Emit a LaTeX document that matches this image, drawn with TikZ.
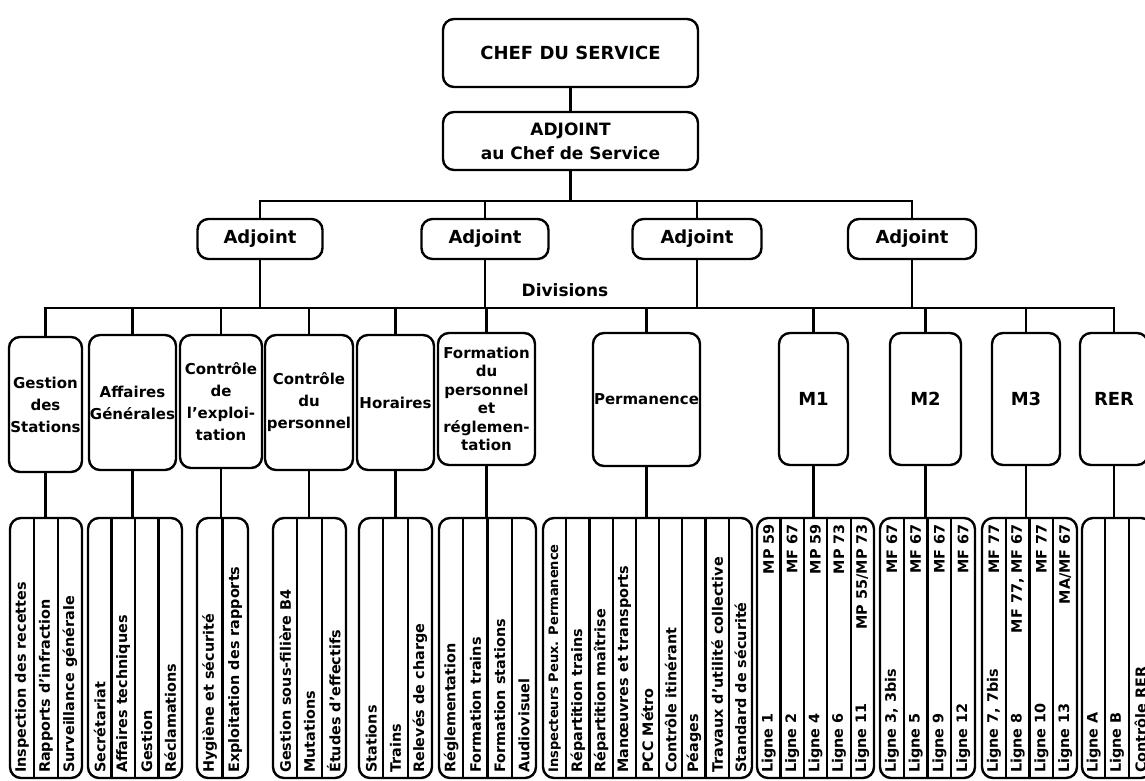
\documentclass[tikz,border=0pt]{standalone}
\usepackage{fontspec}
\setmainfont{DejaVu Sans}
\usetikzlibrary{calc}

% one column group: name, left x, width, number of columns, texts
\newcommand\ColGroup[5]{%
  \node[grp, minimum width=#3pt, anchor=north west] (#1) at (#2,518) {};
  \pgfmathtruncatemacro\lastdiv{#4-1}%
  \foreach \k in {1,...,\lastdiv}
    \draw[link] ($(#1.north west)!{\k/#4}!(#1.north east)$) -- ($(#1.south west)!{\k/#4}!(#1.south east)$);
  \foreach \t [count=\k] in {#5}
    \node[lab, anchor=west] at ($(#1.south west)!{(\k-0.5)/#4}!(#1.south east)+(0,-5)$) {\t};
}
% texts set against the top of a column group
\newcommand\TopTexts[3]{%
  \foreach \t [count=\k] in {#3}
    \node[lab, anchor=east] at ($(#1.north west)!{(\k-0.5)/#2}!(#1.north east)+(0,6)$) {\t};
}
\newcommand\smallerlab[1]{{\fontsize{13}{15}\selectfont #1}}

\begin{document}
\begin{tikzpicture}[x=1pt,y=-1pt,
  box/.style={draw, line width=2.4pt, rounded corners=11pt, inner sep=0pt, outer sep=0pt, align=center},
  grp/.style={box, minimum height=260pt},
  link/.style={line width=2.2pt},
  lab/.style={font=\bfseries\fontsize{14.4}{16}\selectfont, rotate=90, inner sep=0pt},
  divtxt/.style={box, font=\bfseries\fontsize{15}{22}\selectfont},
  line/.style={box, font=\bfseries\fontsize{18}{22}\selectfont},
  adj/.style={box, font=\bfseries\fontsize{18}{20}\selectfont, minimum height=40pt},
]
\useasboundingbox (0,0) rectangle (1145,780);

% head of the service
\node[box, minimum width=255pt, minimum height=68pt, font=\bfseries\fontsize{18}{20}\selectfont]
  (chef) at (570.5,53) {CHEF DU SERVICE};
\node[box, minimum width=255pt, minimum height=58pt, font=\bfseries\fontsize{17}{24}\selectfont]
  (adj) at (570.5,141) {ADJOINT\\au Chef de Service};

% deputies
\node[adj, minimum width=125pt] (a1) at (260,239) {Adjoint};
\node[adj, minimum width=127pt] (a2) at (485,239) {Adjoint};
\node[adj, minimum width=129pt] (a3) at (697,239) {Adjoint};
\node[adj, minimum width=128pt] (a4) at (912,239) {Adjoint};

\node[font=\bfseries\fontsize{17}{20}\selectfont] (divlab) at (565,290) {Divisions};

% divisions
\node[divtxt, minimum width=73pt, minimum height=135pt] (d1) at (45.5,404.5) {Gestion\\des\\Stations};
\node[divtxt, minimum width=87pt, minimum height=135pt] (d2) at (132.5,402.5) {Affaires\\Générales};
\node[divtxt, minimum width=82pt, minimum height=133pt] (d3) at (221,401.5) {Contrôle\\de\\l'exploi-\\tation};
\node[divtxt, minimum width=88pt, minimum height=135pt] (d4) at (309,402.5) {Contrôle\\du\\personnel};
\node[divtxt, minimum width=77pt, minimum height=135pt] (d5) at (395.5,402.5) {Horaires};
\node[divtxt, minimum width=97pt, minimum height=132pt, font=\bfseries\fontsize{15}{18.5}\selectfont]
  (d6) at (486.5,399) {Formation\\du\\personnel\\et\\réglemen-\\tation};
\node[divtxt, minimum width=107pt, minimum height=133pt] (d7) at (646.5,399.5) {Permanence};
\node[line, minimum width=69pt, minimum height=132pt] (d8) at (813.5,399) {M1};
\node[line, minimum width=71pt, minimum height=132pt] (d9) at (925.5,399) {M2};
\node[line, minimum width=68pt, minimum height=132pt] (d10) at (1026,399) {M3};
\node[line, minimum width=68pt, minimum height=132pt] (d11) at (1114,399) {RER};

% sections of each division
\ColGroup{g1}{10}{72}{3}{Inspection des recettes, Rapports d'infraction, Surveillance générale}
\ColGroup{g2}{88}{94}{4}{Secrétariat, Affaires techniques, Gestion, Réclamations}
\ColGroup{g3}{197}{51}{2}{Hygiène et sécurité, Exploitation des rapports}
\ColGroup{g4}{273}{73}{3}{Gestion sous-filière B4, Mutations, Études d'effectifs}
\ColGroup{g5}{359}{73}{3}{Stations, Trains, Relevés de charge}
\ColGroup{g6}{439}{97}{4}{Réglementation, Formation trains, Formation stations, Audiovisuel}
\ColGroup{g7}{543}{209}{9}{\smallerlab{Inspecteurs Peux. Permanence}, Répartition trains, Répartition maîtrise,
  Manœuvres et transports, PCC Métro, Contrôle itinérant, Péages, Travaux d'utilité collective,
  Standard de sécurité}
\ColGroup{g8}{757}{117}{5}{Ligne 1, Ligne 2, Ligne 4, Ligne 6, Ligne 11}
\TopTexts{g8}{5}{MP 59, MF 67, MP 59, MP 73, MP 55/MP 73}
\ColGroup{g9}{880}{95}{4}{{Ligne 3, 3bis}, Ligne 5, Ligne 9, Ligne 12}
\TopTexts{g9}{4}{MF 67, MF 67, MF 67, MF 67}
\ColGroup{g10}{982}{95}{4}{{Ligne 7, 7bis}, Ligne 8, Ligne 10, Ligne 13}
\TopTexts{g10}{4}{MF 77, {MF 77, MF 67}, MF 77, MA/MF 67}
\ColGroup{g11}{1082}{70}{3}{Ligne A, Ligne B, Contrôle RER}

% connectors
\coordinate (abar) at (0,201);
\coordinate (dbar) at (0,308);
\draw[link] (chef) -- (adj);
\draw[link] (adj.south) -- (adj.south |- abar);
\draw[link] (a1.north) -- (a1.north |- abar) -- (a4.north |- abar) -- (a4.north);
\foreach \n in {a2,a3} \draw[link] (\n.north) -- (\n.north |- abar);
\foreach \n in {a1,a2,a3,a4} \draw[link] (\n.south) -- (\n.south |- dbar);
\draw[link] (d1.north) -- (d1.north |- dbar) -- (d11.north |- dbar) -- (d11.north);
\foreach \n in {2,...,10} \draw[link] (d\n.north) -- (d\n.north |- dbar);
\foreach \n in {1,...,11} \draw[link] (d\n.south) -- (d\n.south |- g\n.north);
\end{tikzpicture}
\end{document}
